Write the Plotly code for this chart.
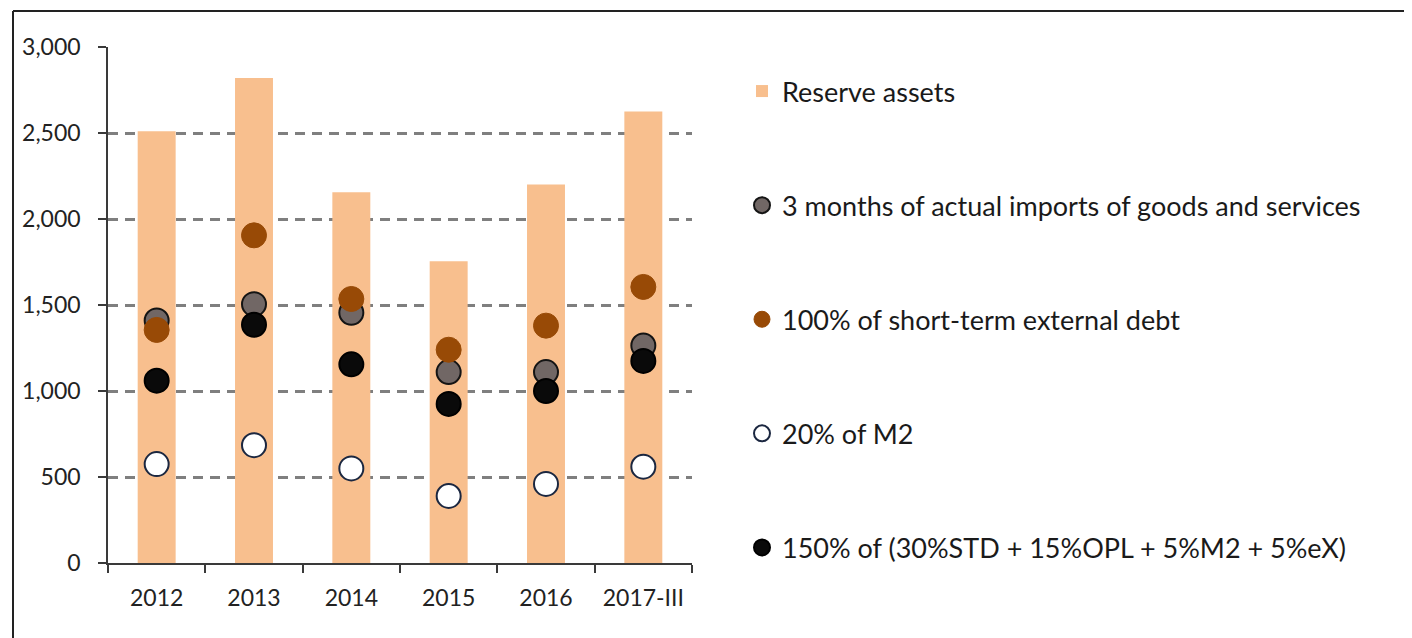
import plotly.graph_objects as go

categories = ["2012", "2013", "2014", "2015", "2016", "2017-III"]
reserve_assets = [2510, 2820, 2155, 1755, 2200, 2625]
imports_3m = [1410, 1505, 1455, 1110, 1110, 1265]
short_term_debt = [1355, 1905, 1535, 1240, 1380, 1605]
m2_20 = [575, 685, 550, 390, 460, 560]
ara_150 = [1060, 1385, 1155, 925, 1000, 1175]

names = [
    "Reserve assets",
    "3 months of actual imports of goods and services",
    "100% of short-term external debt",
    "20% of M2",
    "150% of (30%STD + 15%OPL + 5%M2 + 5%eX)",
]

FONT = "Lato"

fig = go.Figure()
fig.add_trace(go.Bar(
    x=categories, y=reserve_assets, name=names[0], width=0.39,
    marker=dict(color="#f8bf8e", line=dict(width=0)), legendgroup="a",
))
fig.add_trace(go.Scatter(
    x=categories, y=imports_3m, name=names[1], mode="markers", legendgroup="b",
    marker=dict(size=24, color="#716765", line=dict(color="#141414", width=2)),
))
fig.add_trace(go.Scatter(
    x=categories, y=short_term_debt, name=names[2], mode="markers", legendgroup="c",
    marker=dict(size=25, color="#984a06", line=dict(color="#984a06", width=1)),
))
fig.add_trace(go.Scatter(
    x=categories, y=m2_20, name=names[3], mode="markers", legendgroup="d",
    marker=dict(size=24, color="#ffffff", line=dict(color="#1b2740", width=2)),
))
fig.add_trace(go.Scatter(
    x=categories, y=ara_150, name=names[4], mode="markers", legendgroup="e",
    marker=dict(size=24, color="#0a0a0a", line=dict(color="#000000", width=2)),
))

# page body has an 8px margin; figure coordinates = screen - 8
W, H = 1404, 630
L, R, T, B = 100, 720, 39, 75
pw, ph = W - L - R, H - T - B

def px_x(p):
    return (p - L) / pw

def px_y(p):
    return (H - B - p) / ph

fig.update_layout(
    width=W, height=H,
    margin=dict(l=L, r=R, t=T, b=B, autoexpand=False),
    plot_bgcolor="white", paper_bgcolor="white",
    font=dict(family=FONT, size=23, color="#222222"),
    showlegend=True,
    legend=dict(
        x=px_x(734), y=px_y(59), xanchor="left", yanchor="top",
        tracegroupgap=76, font=dict(size=27, family=FONT, color="#1a1a1a"),
        itemwidth=30, bgcolor="rgba(0,0,0,0)",
    ),
    bargap=0.6,
    xaxis=dict(
        type="category", range=[-0.5, 5.5],
        showline=True, linecolor="#3a3a3a", linewidth=1.5,
        ticks="outside", ticklen=8, tickcolor="#3a3a3a", tickwidth=1.5,
        tickson="boundaries", showgrid=False, ticklabelstandoff=14,
        tickfont=dict(size=23, family=FONT, color="#222222"),
    ),
    yaxis=dict(
        range=[0, 3000], tickvals=[0, 500, 1000, 1500, 2000, 2500, 3000],
        ticktext=["0", "500", "1,000", "1,500", "2,000", "2,500", "3,000"],
        showline=True, linecolor="#3a3a3a", linewidth=1.5,
        ticks="outside", ticklen=8, tickcolor="#3a3a3a", tickwidth=1.5,
        showgrid=True, gridcolor="#7f7f7f", gridwidth=2.5, griddash="10px,7px",
        zeroline=False, ticklabelstandoff=13,
        tickfont=dict(size=23, family=FONT, color="#222222"),
    ),
    shapes=[
        dict(type="line", xref="paper", yref="paper",
             x0=px_x(5), x1=px_x(W), y0=px_y(3), y1=px_y(3),
             line=dict(color="#222222", width=2)),
        dict(type="line", xref="paper", yref="paper",
             x0=px_x(5), x1=px_x(5), y0=px_y(3), y1=px_y(H),
             line=dict(color="#222222", width=2)),
    ],
)

fig.write_html("out.html")
